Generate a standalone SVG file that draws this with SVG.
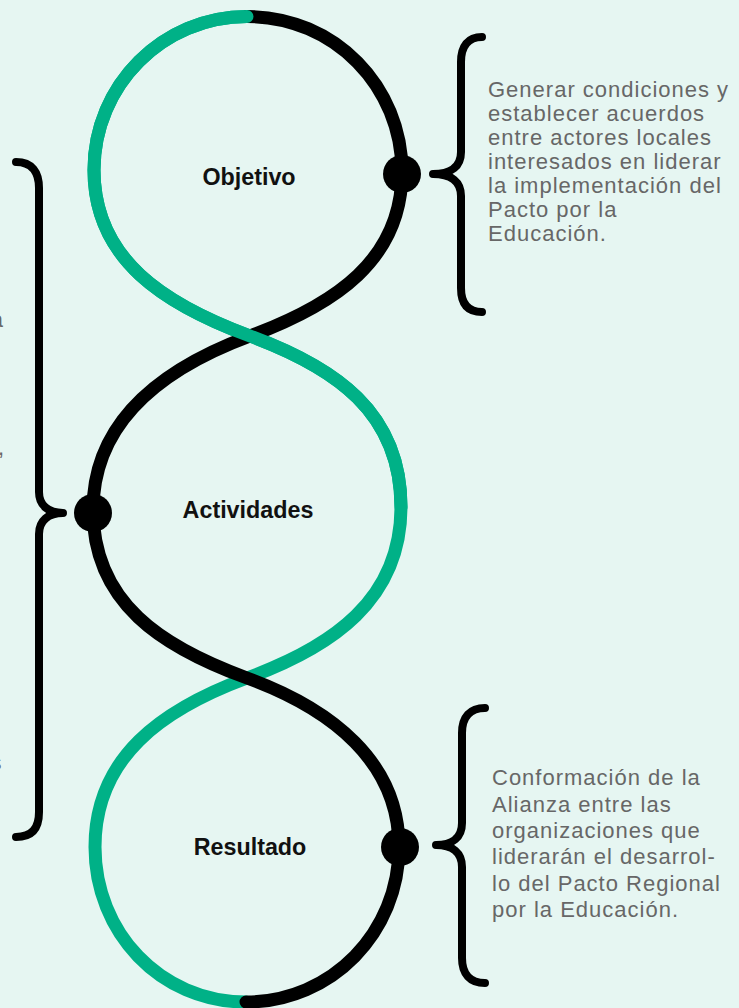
<svg xmlns="http://www.w3.org/2000/svg" width="739" height="1008" viewBox="0 0 739 1008">
  <style>
    .bg { fill: #e6f6f2; }
    .loop { fill: none; stroke-width: 13; stroke-linecap: round; stroke-linejoin: round; }
    .green { stroke: #00b187; }
    .black { stroke: #000000; }
    .brace { fill: none; stroke: #000000; stroke-width: 8; stroke-linecap: round; stroke-linejoin: round; }
    .dot { fill: #000000; }
    .label { font-family: "Liberation Sans", Arial, sans-serif; font-weight: bold; font-size: 23.3px; fill: #111111; text-anchor: middle; }
    .desc { font-family: "Liberation Sans", Arial, sans-serif; font-size: 22px; letter-spacing: 1px; fill: #676767; }
  </style>
  <rect class="bg" x="0" y="0" width="739" height="1008"/>

  <g id="connectors">
    <path class="loop green" d="M247,16.5 C163,16.5 94,85 94,170 C94,260 165,304.5 250,336 C335,367.5 401,412 401,507 C401,600 332,647 247,678 C162,709.5 95,757 95,847 C95,932 160,1002 246,1002"/>
    <path class="loop black" d="M247,16.5 C335,16.5 402,87 402,172 C402,260 335,304.5 250,336 C165,367.5 93,420 93,510 C93,603 162,647 247,678 C332,709 399,762 399,847 C399,932 332,1002 246,1002"/>
    <path class="loop green" d="M247,16.5 C163,16.5 94,85 94,170 C94,260 165,304.5 250,336 C335,367.5 401,412 401,507"/>
  </g>

  <g id="node-objetivo">
    <circle class="dot" cx="402" cy="174" r="19"/>
    <text class="label" x="249" y="185">Objetivo</text>
  </g>

  <g id="node-actividades">
    <circle class="dot" cx="93" cy="513" r="19"/>
    <text class="label" x="248" y="518">Actividades</text>
  </g>

  <g id="node-resultado">
    <circle class="dot" cx="400" cy="847" r="19"/>
    <text class="label" x="250" y="855">Resultado</text>
  </g>

  <g id="note-objetivo">
    <path class="brace" d="M482,37 C468,37 461,46 461,62 L461,152 C461,166 452,174 433,174 C452,174 461,182 461,196 L461,288 C461,304 468,312 482,312"/>
    <text class="desc" x="488" y="97">Generar condiciones y</text>
    <text class="desc" x="488" y="121">establecer acuerdos</text>
    <text class="desc" x="488" y="145">entre actores locales</text>
    <text class="desc" x="488" y="169">interesados en liderar</text>
    <text class="desc" x="488" y="193">la implementación del</text>
    <text class="desc" x="488" y="217">Pacto por la</text>
    <text class="desc" x="488" y="241">Educación.</text>
  </g>

  <g id="note-actividades">
    <path class="brace" d="M16,162 C32,162 39,172 39,188 L39,492 C39,505 48,513 63,513 C48,513 39,521 39,534 L39,812 C39,828 32,837 16,837"/>
    <text class="desc" x="4" y="327" text-anchor="end" letter-spacing="0">a</text>
    <text class="desc" x="5" y="455" text-anchor="end" letter-spacing="0">,</text>
    <text class="desc" x="2.5" y="770" text-anchor="end" letter-spacing="0">s</text>
  </g>

  <g id="note-resultado">
    <path class="brace" d="M485,708 C470,708 462,717 462,733 L462,823 C462,837 453,845 436,845 C453,845 462,853 462,867 L462,958 C462,974 470,983 485,983"/>
    <text class="desc" x="492" y="785">Conformación de la</text>
    <text class="desc" x="492" y="811.5">Alianza entre las</text>
    <text class="desc" x="492" y="838">organizaciones que</text>
    <text class="desc" x="492" y="864">liderarán el desarrol-</text>
    <text class="desc" x="492" y="890.5">lo del Pacto Regional</text>
    <text class="desc" x="492" y="917">por la Educación.</text>
  </g>
</svg>
